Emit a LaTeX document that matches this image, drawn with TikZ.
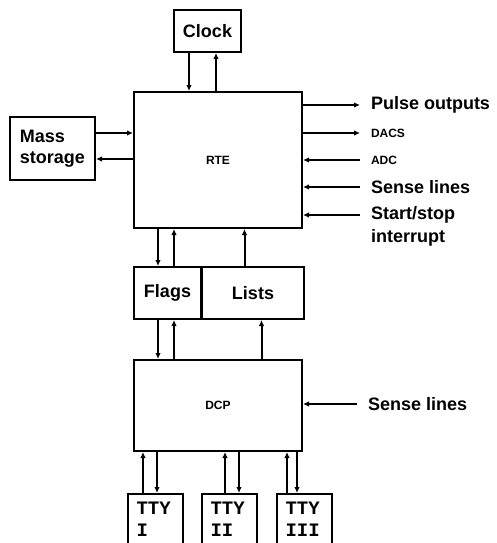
\documentclass[tikz,border=0pt]{standalone}
\usepackage{fontspec}
\setmainfont{Liberation Sans}
\setmonofont{Liberation Mono}
\usepackage{tikz}
\usetikzlibrary{calc,arrows.meta}

\begin{document}
\begin{tikzpicture}[x=1pt, y=-1pt, line width=2pt,
    >={Latex[length=6pt,width=5.5pt]}]
    % block style
    \tikzstyle{block}=[
      draw,
      rectangle,
      line width=2pt,
      inner sep=0pt,
      align=center,
      font=\fontsize{18}{21}\selectfont\bfseries
    ]
    \tikzstyle{small}=[font=\fontsize{12}{14}\selectfont\bfseries]
    \tikzstyle{signal}=[
      anchor=west,
      inner xsep=10pt,
      inner ysep=0pt,
      font=\fontsize{18}{21}\selectfont\bfseries
    ]
    \tikzstyle{tty}=[
      draw,
      rectangle,
      line width=2pt,
      anchor=north,
      minimum width=55pt,
      text width=38pt,
      inner ysep=8pt,
      align=left,
      font=\fontsize{19}{22}\selectfont\ttfamily\bfseries
    ]

    \clip (0,0) rectangle (496,543);

    % Main blocks
    \node[block, minimum width=67pt, minimum height=42pt] (clock) at (207.5,31) {Clock};
    \node[block, small, minimum width=168pt, minimum height=136pt] (rte) at (218,160) {RTE};
    \node[block, minimum width=85pt, minimum height=63pt, align=left] (mass) at (52.5,148.5) {Mass\\storage};
    \node[block, minimum width=67pt, minimum height=52pt] (flags) at (167.5,293) {Flags};
    \node[block, minimum width=102pt, minimum height=52pt, anchor=west] (lists) at ([xshift=-1pt]flags.east) {Lists};
    \node[block, small, minimum width=168pt, minimum height=91pt] (dcp) at (218,405.5) {DCP};

    % Terminals
    \node[tty] (tty1) at (155.5,493) {TTY\\I};
    \node[tty] (tty2) at (229.5,493) {TTY\\II};
    \node[tty] (tty3) at (304.5,493) {TTY\\III};

    % Outside signals
    \node[signal] (pulse) at (360,105) {Pulse outputs};
    \node[signal, small, inner xsep=10pt] (dacs) at (360,133) {DACS};
    \node[signal, small, inner xsep=10pt] (adc) at (360,160) {ADC};
    \node[signal] (sense) at (360,187) {Sense lines};
    \node[signal] (start) at (360,215) {Start/stop};
    \node[signal] (intr) at (360,238) {interrupt};
    \node[signal] (dsense) at (357,404) {Sense lines};

    % Clock to RTE
    \draw[->] ([xshift=-18.5pt]clock.south) -- ([xshift=-18.5pt]clock.south |- rte.north);
    \draw[->] ([xshift=8.5pt]clock.south |- rte.north) -- ([xshift=8.5pt]clock.south);

    % Mass storage
    \draw[->] ([yshift=15.5pt]mass.east) -- ([yshift=15.5pt]mass.east -| rte.west);
    \draw[->] ([yshift=-10.5pt]mass.east -| rte.west) -- ([yshift=-10.5pt]mass.east);

    % Right side of RTE
    \draw[->] (rte.east |- pulse.west) -- (pulse.west);
    \draw[->] (rte.east |- dacs.west) -- (dacs.west);
    \draw[<-] (rte.east |- adc.west) -- (adc.west);
    \draw[<-] (rte.east |- sense.west) -- (sense.west);
    \draw[<-] (rte.east |- start.west) -- (start.west);

    % RTE to flags and lists
    \draw[->] ([xshift=-9.5pt]flags.north |- rte.south) -- ([xshift=-9.5pt]flags.north);
    \draw[->] ([xshift=6.5pt]flags.north) -- ([xshift=6.5pt]flags.north |- rte.south);
    \draw[->] ([xshift=-8.5pt]lists.north) -- ([xshift=-8.5pt]lists.north |- rte.south);

    % Flags and lists to DCP
    \draw[->] ([xshift=-9.5pt]flags.south) -- ([xshift=-9.5pt]flags.south |- dcp.north);
    \draw[->] ([xshift=6.5pt]flags.south |- dcp.north) -- ([xshift=6.5pt]flags.south);
    \draw[->] ([xshift=8.5pt]lists.south |- dcp.north) -- ([xshift=8.5pt]lists.south);

    % Sense lines into DCP
    \draw[<-] (dcp.east |- dsense.west) -- (dsense.west);

    % DCP to terminals
    \draw[->] ([xshift=-12.5pt]tty1.north) -- ([xshift=-12.5pt]tty1.north |- dcp.south);
    \draw[->] ([xshift=1.5pt]tty1.north |- dcp.south) -- ([xshift=1.5pt]tty1.north);
    \draw[->] ([xshift=-4.5pt]tty2.north) -- ([xshift=-4.5pt]tty2.north |- dcp.south);
    \draw[->] ([xshift=9.5pt]tty2.north |- dcp.south) -- ([xshift=9.5pt]tty2.north);
    \draw[->] ([xshift=-17.5pt]tty3.north) -- ([xshift=-17.5pt]tty3.north |- dcp.south);
    \draw[->] ([xshift=-7.5pt]tty3.north |- dcp.south) -- ([xshift=-7.5pt]tty3.north);
  \end{tikzpicture}
\end{document}
